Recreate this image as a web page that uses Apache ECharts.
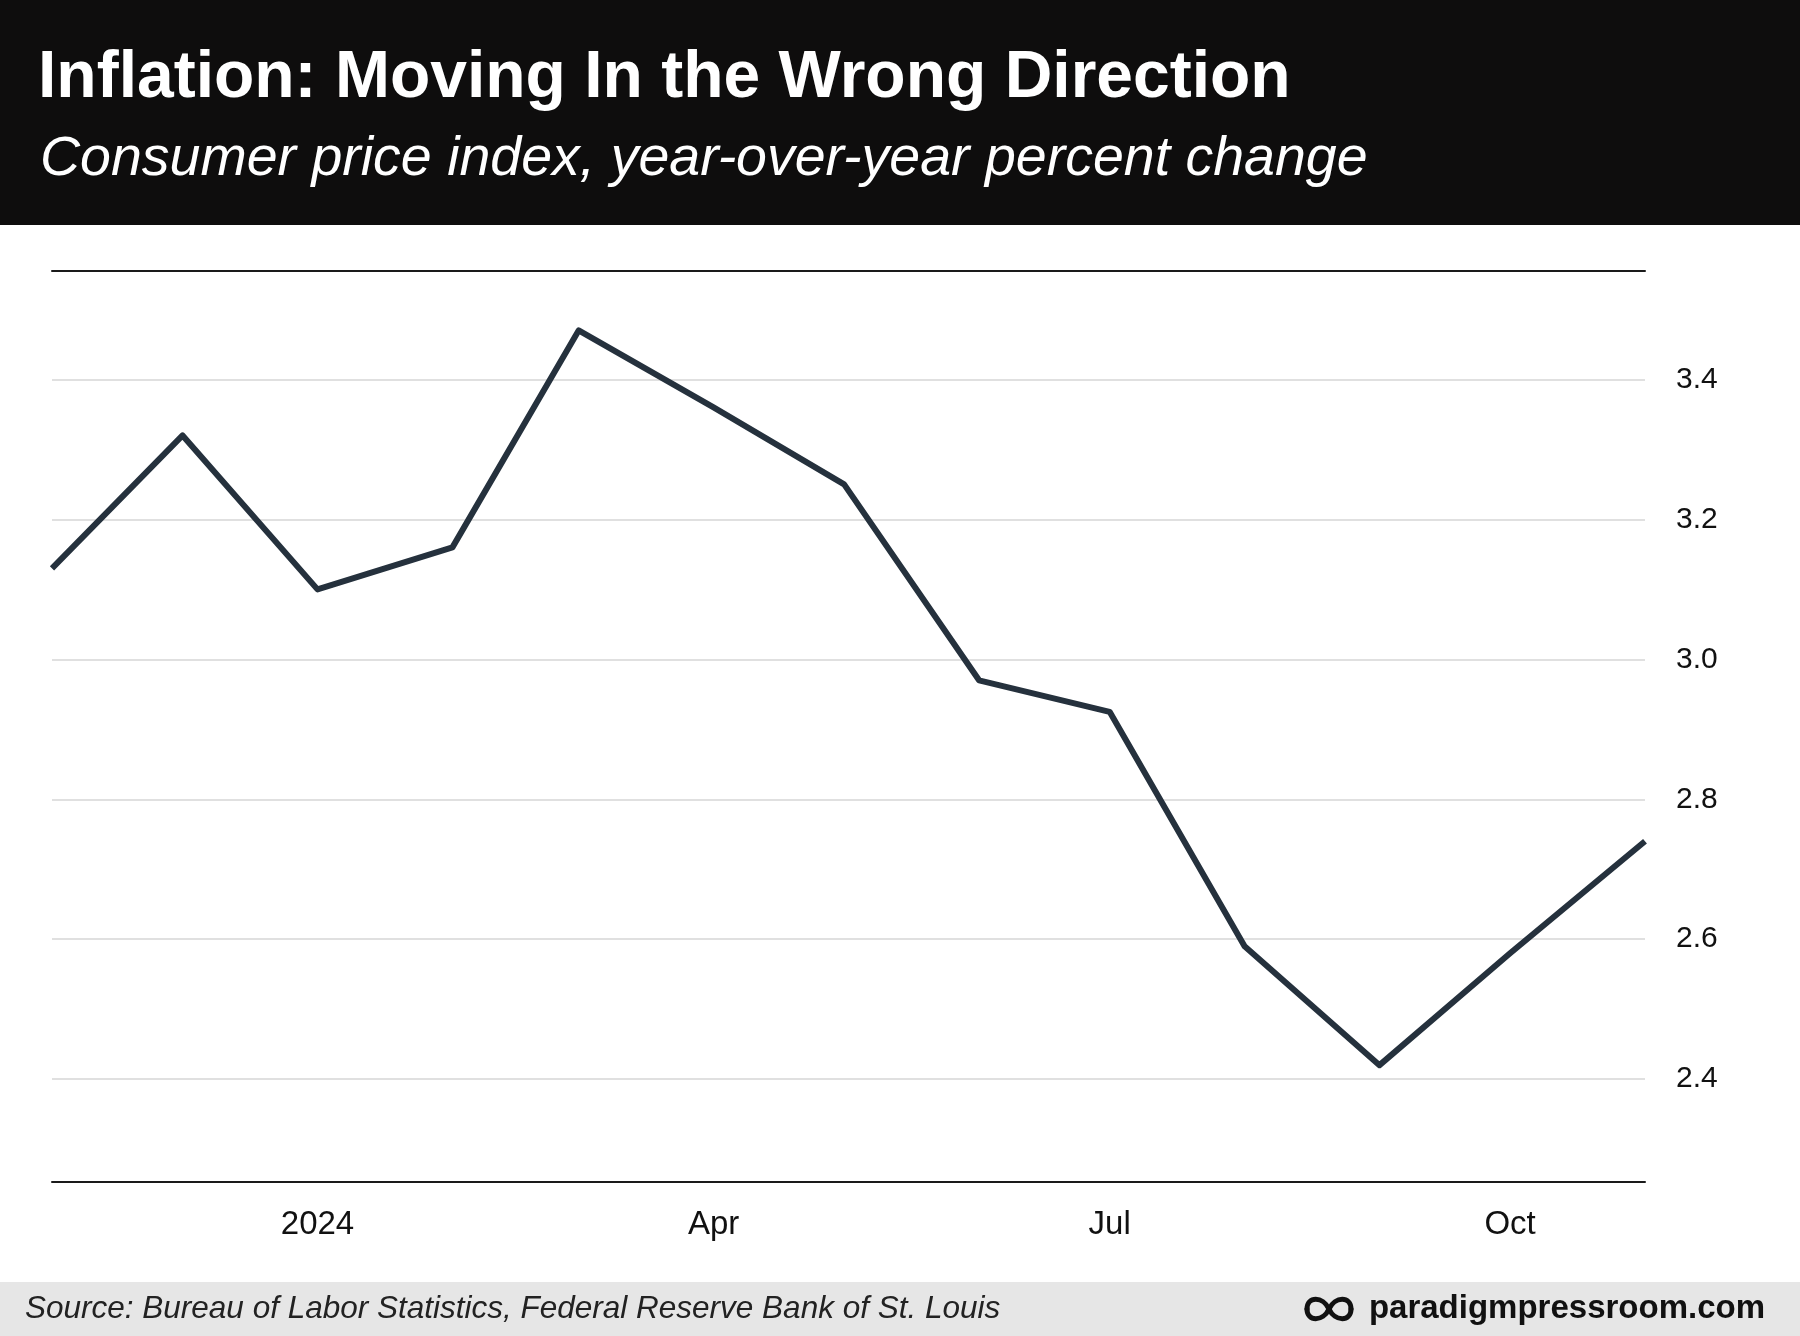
<!DOCTYPE html>
<html><head><meta charset="utf-8">
<script src="https://cdn.jsdelivr.net/npm/echarts@6/dist/echarts.min.js"></script>
<style>html,body{margin:0;padding:0;background:#fff}#c{width:1800px;height:1336px}</style>
</head><body><div id="c"></div>
<script>
// ---- data ----
const months = ['2023-11-01','2023-12-01','2024-01-01','2024-02-01','2024-03-01','2024-04-01','2024-05-01','2024-06-01','2024-07-01','2024-08-01','2024-09-01','2024-10-01','2024-11-01'];
const cpiYoY = [3.13, 3.32, 3.10, 3.16, 3.47, 3.36, 3.25, 2.97, 2.925, 2.59, 2.42, 2.58, 2.74];
const xTickDates = ['2024-01-01','2024-04-01','2024-07-01','2024-10-01'];
const xTickLabels = ['2024','Apr','Jul','Oct'];
const yTicks = [2.4, 2.6, 2.8, 3.0, 3.2, 3.4];
const titleText = 'Inflation: Moving In the Wrong Direction';
const subtitleText = 'Consumer price index, year-over-year percent change';
const sourceText = 'Source: Bureau of Labor Statistics, Federal Reserve Bank of St. Louis';
const brandText = 'paradigmpressroom.com';

const T = s => Date.parse(s + 'T00:00:00Z');
const xTickTimes = xTickDates.map(T);
const seriesData = months.map((m, i) => [T(m), cpiYoY[i]]);
const xMin = T('2023-11-01'), xMax = T('2024-11-01');
const FONT = '"Liberation Sans", Arial, Helvetica, sans-serif';

const logoStyle = {fill: null, stroke: '#111111', lineWidth: 5, lineCap: 'round'};
const lobe = (x1, y1, cx1, cy1, cx2, cy2, x2, y2) => ({
  type: 'bezierCurve', shape: {x1, y1, cpx1: cx1, cpy1: cy1, cpx2: cx2, cpy2: cy2, x2, y2}, style: logoStyle
});

const chart = echarts.init(document.getElementById('c'), null, {renderer: 'canvas'});
chart.setOption({
  animation: false,
  backgroundColor: '#ffffff',
  grid: {left: 52, right: 155, top: 271, bottom: 154, containLabel: false},
  xAxis: [{
    type: 'value', min: xMin, max: xMax, position: 'bottom', scale: true,
    axisLine: {show: true, onZero: false, lineStyle: {color: '#1a1a1a', width: 2}},
    axisTick: {show: false, customValues: xTickTimes},
    splitLine: {show: false},
    axisLabel: {
      customValues: xTickTimes,
      margin: 26, color: '#111', fontSize: 33, fontFamily: FONT,
      formatter: v => { const i = xTickTimes.indexOf(v); return i >= 0 ? xTickLabels[i] : ''; }
    }
  }, {
    type: 'value', min: xMin, max: xMax, position: 'top', scale: true,
    axisLine: {show: true, onZero: false, lineStyle: {color: '#1a1a1a', width: 2}},
    axisTick: {show: false}, axisLabel: {show: false}, splitLine: {show: false}
  }],
  yAxis: {
    type: 'value', position: 'right', min: 2.253, max: 3.555,
    axisLine: {show: false},
    axisTick: {show: false, customValues: yTicks},
    splitLine: {show: true, lineStyle: {color: '#d6d6d6', width: 1.5}},
    axisLabel: {
      customValues: yTicks, margin: 31, color: '#111', fontSize: 30, fontFamily: FONT,
      formatter: v => v.toFixed(1)
    }
  },
  series: [{
    type: 'line', data: seriesData, xAxisIndex: 0, symbol: 'none', clip: true,
    lineStyle: {color: '#25313d', width: 6, join: 'round'}
  }],
  graphic: [
    {type: 'rect', shape: {x: 0, y: 0, width: 1800, height: 225}, style: {fill: '#0e0d0d'}, z: 0},
    {type: 'rect', shape: {x: 0, y: 1282, width: 1800, height: 54}, style: {fill: '#e6e6e6'}, z: 0},
    {type: 'text', x: 38, y: 79, z: 1, style: {text: titleText, fill: '#ffffff', fontSize: 66, fontWeight: 'bold', fontFamily: FONT, align: 'left', verticalAlign: 'middle'}},
    {type: 'text', x: 40, y: 160, z: 1, style: {text: subtitleText, fill: '#ffffff', fontSize: 55.5, fontStyle: 'italic', fontFamily: FONT, align: 'left', verticalAlign: 'middle'}},
    {type: 'text', x: 25, y: 1309, z: 1, style: {text: sourceText, fill: '#222222', fontSize: 31.5, fontStyle: 'italic', fontFamily: FONT, align: 'left', verticalAlign: 'middle'}},
    {type: 'text', x: 1765, y: 1309, z: 1, style: {text: brandText, fill: '#111111', fontSize: 33, fontWeight: 'bold', fontFamily: FONT, align: 'right', verticalAlign: 'middle'}},
    {type: 'group', x: 1329, y: 1309, z: 1, children: [
      lobe(0, 0, 6, -13, 22, -13, 22, 0),
      lobe(22, 0, 22, 13, 6, 13, 0, 0),
      lobe(0, 0, -6, -13, -22, -13, -22, 0),
      lobe(-22, 0, -22, 13, -6, 13, 0, 0)
    ]}
  ]
});
</script>
</body></html>
